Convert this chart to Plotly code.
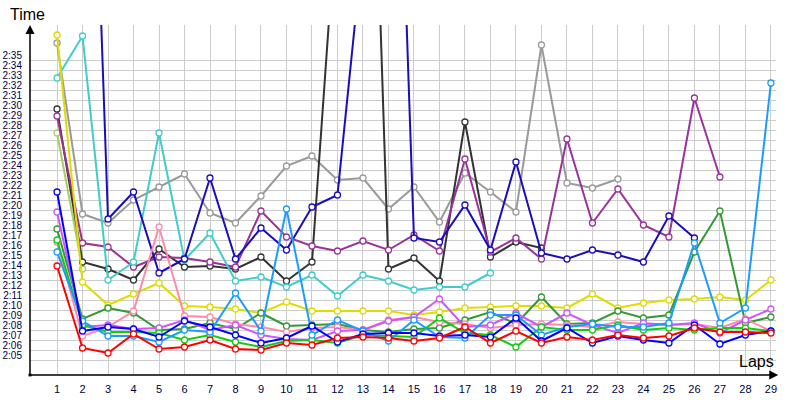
import plotly.graph_objects as go

laps = list(range(1, 30))

# lap times in seconds (2:05 = 125 s); None = no lap
red = [133.9, 125.7, 125.2, 127.1, 125.6, 125.8, 126.5, 125.6, 125.5, 126.2, 126.0, 126.7, 126.8, 126.7, 126.4,
       126.7, 127.8, 126.2, 127.4, 126.2, 126.8, 126.5, 127.0, 126.7, 126.9, 127.7, 127.3, 127.3, 127.2]
blue = [141.3, 127.4, 127.8, 127.6, 126.8, 128.4, 127.8, 127.0, 126.2, 126.7, 127.9, 126.3, 127.1, 127.2, 127.2,
        126.9, 127.0, 126.8, 128.7, 126.4, 127.7, 126.2, 126.9, 126.5, 126.2, 128.0, 126.1, 127.0, 127.4]
navy = [205.0, 212.0, 138.6, 141.3, 133.2, 134.6, 142.7, 134.6, 137.7, 135.5, 139.8, 141.0, 166.0, 211.0, 136.7,
        136.3, 140.0, 135.5, 144.3, 135.2, 134.6, 135.5, 135.0, 134.3, 138.9, 136.7, None, None, None]
skyblue = [135.3, 128.4, 126.9, 126.9, 126.3, 127.5, 127.3, 131.2, 127.4, 139.6, 127.0, 128.5, 127.4, 126.4, 128.5,
           126.8, 126.7, 129.0, 129.0, 127.0, 127.8, 128.1, 127.8, 127.8, 128.2, 136.2, 128.2, 129.7, 152.2]
cyan = [152.7, 156.9, 132.5, 134.3, 147.2, 134.5, 137.2, 132.4, 132.8, 131.8, 133.0, 130.9, 133.0, 132.4, 131.5,
        131.8, 131.8, 133.2, None, None, None, None, None, None, None, None, None, None, None]
green = [137.6, 128.6, 129.7, 129.2, 127.5, 127.6, 128.2, 127.6, 129.2, 127.9, 128.0, 128.1, 127.5, 127.3, 127.6,
         127.7, 128.5, 129.3, 128.1, 130.8, 128.1, 128.2, 129.4, 128.7, 129.0, 135.3, 139.4, 128.2, 128.8]
lime = [136.5, 128.0, 127.3, 127.3, 127.2, 126.5, 127.0, 126.3, 125.8, 126.4, 126.5, 126.2, 127.0, 126.9, 126.8,
        128.7, 127.2, 127.0, 125.8, 127.8, 127.5, 127.5, 128.0, 127.5, 127.7, 127.5, 127.7, 127.7, 127.4]
yellow = [157.0, 132.3, 130.0, 131.1, 132.2, 129.9, 129.8, 129.6, 129.2, 130.3, 129.4, 129.4, 129.4, 129.4, 129.0,
          129.3, 129.7, 129.8, 129.9, 129.9, 129.7, 131.1, 129.7, 130.2, 130.5, 130.6, 130.8, 130.5, 132.5]
pink = [136.3, 126.9, 127.8, 129.4, 137.8, 128.9, 128.8, 128.1, 127.8, 127.3, 127.7, 127.8, 127.5, 128.5, 128.8,
        128.3, 128.1, 127.7, 128.0, 128.1, 128.0, 127.8, 128.3, 128.1, 128.0, 128.1, 127.7, 128.6, 127.4]
violet = [139.3, 127.8, 128.0, 127.6, 127.7, 128.5, 127.5, 128.0, 127.0, 126.6, 126.5, 127.4, 127.5, 128.4, 128.8,
          130.6, 127.8, 128.0, 129.2, 127.8, 129.2, 128.0, 127.2, 128.2, 128.0, 128.2, 127.2, 128.5, 129.6]
purple = [148.9, 136.2, 135.8, 133.8, 134.8, 134.7, 134.3, 133.8, 139.4, 136.8, 135.9, 135.4, 136.4, 135.5, 137.0,
          135.4, 144.6, 135.3, 136.7, 134.6, 146.6, 138.2, 141.6, 138.0, 136.8, 150.7, 142.8, None, None]
darkgray = [149.6, 134.3, 133.6, 132.5, 135.6, 133.8, 133.9, 133.6, 134.8, 132.4, 134.3, 170.5, 212.0, 133.6, 134.7,
            132.4, 148.3, 134.8, 136.3, 135.7, None, None, None, None, None, None, None, None, None]
gray = [156.2, 139.1, 138.2, 140.5, 141.8, 143.1, 139.2, 138.2, 140.9, 143.9, 144.9, 142.5, 142.7, 139.6, 141.8,
        138.3, 143.2, 141.3, 139.3, 156.0, 142.2, 141.7, 142.6, None, None, None, None, None, None]
olive = [147.2, 133.6] + [None] * 27

series = [
    ("gray", gray, "#9a9a9a"),
    ("olive", olive, "#aacc66"),
    ("darkgray", darkgray, "#333333"),
    ("purple", purple, "#993399"),
    ("cyan", cyan, "#40cccc"),
    ("navy", navy, "#1a0dbb"),
    ("yellow", yellow, "#e0dc00"),
    ("green", green, "#339933"),
    ("pink", pink, "#ff8aaa"),
    ("violet", violet, "#cc55ff"),
    ("lime", lime, "#11cc11"),
    ("skyblue", skyblue, "#1a9cff"),
    ("blue", blue, "#0000ff"),
    ("red", red, "#ff0000"),
]

ytick_vals = list(range(125, 156))
ytick_text = ["2:05", "2:06", "2:07", "2:08", "2:09", "2:10", "2:11", "2:12", "2:13", "2:14", "2:15",
              "2:16", "2:17", "2:18", "2:19", "2:20", "2:21", "2:22", "2:23", "2:24", "2:25", "2:26",
              "2:27", "2:28", "2:29", "2:30", "2:31", "2:32", "2:33", "2:34", "2:35"]
grid_vals = [v - 0.5 for v in ytick_vals]

fig = go.Figure()
for name, vals, col in series:
    fig.add_trace(go.Scatter(
        x=laps, y=vals, mode="lines+markers", name=name,
        line=dict(color=col, width=2),
        marker=dict(symbol="circle", size=6, color="white", line=dict(color=col, width=1.3)),
        connectgaps=False, cliponaxis=True,
    ))

fig.update_layout(
    width=800, height=400,
    margin=dict(l=30, r=24, t=25, b=25),
    paper_bgcolor="white", plot_bgcolor="white",
    showlegend=False,
    font=dict(family="Liberation Sans", color="#000040"),
    xaxis=dict(
        range=[-0.06, 29.2], tickmode="array", tickvals=laps, ticktext=[str(l) for l in laps],
        showgrid=True, gridcolor="#cccccc", gridwidth=1, zeroline=False, showline=False,
        ticks="", tickfont=dict(size=11, color="#000040"), ticklabelstandoff=6, fixedrange=True,
        automargin=False,
    ),
    yaxis=dict(
        range=[123, 158], tickmode="array", tickvals=ytick_vals, ticktext=ytick_text,
        showgrid=False, zeroline=False, showline=False, ticks="",
        tickfont=dict(size=10, color="#000040"), ticklabelstandoff=7, automargin=False,
        minor=dict(tickmode="array", tickvals=grid_vals, showgrid=True, gridcolor="#cccccc", gridwidth=1, ticks=""),
    ),
    annotations=[
        dict(xref="paper", yref="paper", x=0, y=1.0, axref="pixel", ayref="pixel", ax=0, ay=352,
             showarrow=True, arrowhead=2, arrowsize=1.2, arrowwidth=1.5, arrowcolor="black", text=""),
        dict(xref="paper", yref="paper", x=1.003, y=0, axref="pixel", ayref="pixel", ax=-750, ay=0,
             showarrow=True, arrowhead=2, arrowsize=1.2, arrowwidth=1.5, arrowcolor="black", text=""),
        dict(xref="paper", yref="paper", x=-0.03, y=1.0, xanchor="left", yanchor="bottom",
             text="Time", showarrow=False, font=dict(size=16, color="black", family="Liberation Sans")),
        dict(xref="paper", yref="paper", x=1.0, y=0.01, xanchor="right", yanchor="bottom",
             text="Laps", showarrow=False, font=dict(size=16, color="black", family="Liberation Sans")),
    ],
    shapes=[
        dict(type="rect", xref="paper", yref="paper", x0=-0.002, x1=0.002, y0=-0.004, y1=0.004,
             fillcolor="black", line=dict(width=0)),
    ],
)

fig.write_html("out.html")
